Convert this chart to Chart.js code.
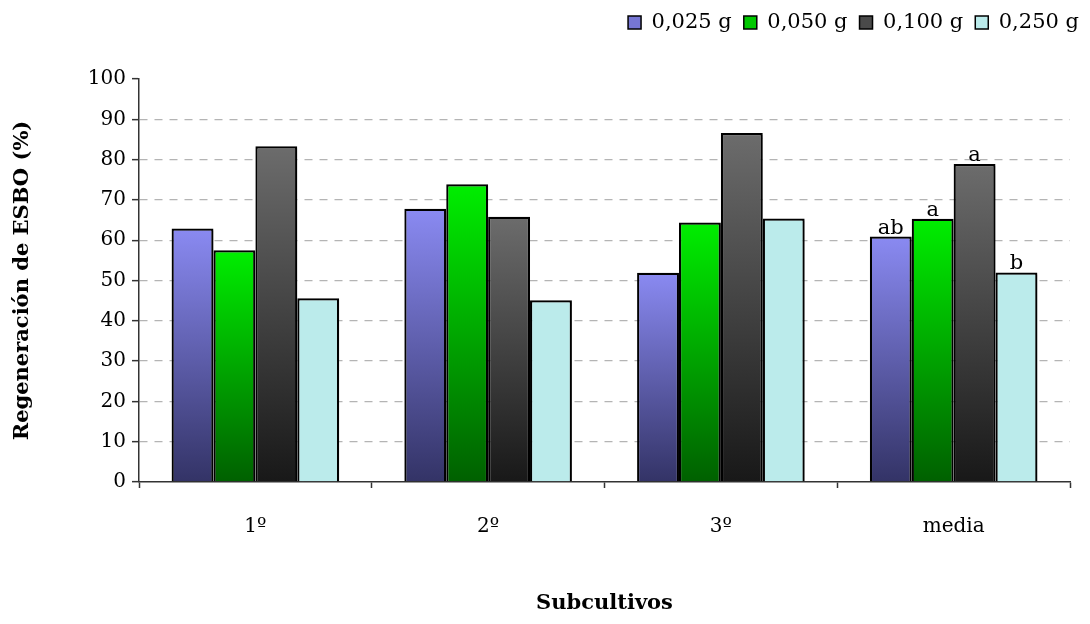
<!DOCTYPE html>
<html>
<head>
<meta charset="utf-8">
<script src="https://cdn.jsdelivr.net/npm/chart.js@4.4.1/dist/chart.umd.min.js"></script>
<style>
html,body{margin:0;padding:0;background:#fff;}
#wrap{width:1090px;height:624px;}
</style>
</head>
<body>
<div id="wrap"><canvas id="c" width="1090" height="624"></canvas></div>
<script>
const categories = ['1º', '2º', '3º', 'media'];
const seriesNames = ['0,025 g', '0,050 g', '0,100 g', '0,250 g'];
const s025 = [62.9, 67.8, 51.9, 60.9];
const s050 = [57.5, 73.9, 64.4, 65.3];
const s100 = [83.3, 65.8, 86.6, 78.9];
const s250 = [45.6, 45.1, 65.4, 52.0];
const mediaLetters = ['ab', 'a', 'a', 'b'];
const yTicks = [0, 10, 20, 30, 40, 50, 60, 70, 80, 90, 100];

const FONT = "'DejaVu Serif', 'Liberation Serif', serif";
const gradStops = [
  ['#8a8af2', '#333366'],
  ['#00ee00', '#006000'],
  ['#6c6c6c', '#181818'],
  ['#bbebeb', '#bbebeb']
];
const legendFill = ['#7676d4', '#00c800', '#4a4a4a', '#bbebeb'];

function barFill(idx) {
  return function(ctx) {
    const chart = ctx.chart;
    const y = chart.scales && chart.scales.y;
    if (!chart.chartArea || !y || ctx.raw == null) return gradStops[idx][0];
    const top = y.getPixelForValue(ctx.raw);
    const bot = y.getPixelForValue(0);
    const g = chart.ctx.createLinearGradient(0, top, 0, bot);
    g.addColorStop(0, gradStops[idx][0]);
    g.addColorStop(1, gradStops[idx][1]);
    return g;
  };
}

const seriesValues = [s025, s050, s100, s250];
const datasets = seriesValues.map((vals, i) => ({
  label: seriesNames[i],
  data: vals,
  backgroundColor: barFill(i),
  borderColor: '#000',
  borderWidth: 2.2,
  borderSkipped: 'bottom',
  barPercentage: 1.0,
  categoryPercentage: 0.72
}));

const letterPlugin = {
  id: 'letters',
  afterDatasetsDraw(chart) {
    const ctx = chart.ctx;
    ctx.save();
    ctx.font = "21px " + FONT;
    ctx.fillStyle = '#000';
    ctx.textAlign = 'center';
    ctx.textBaseline = 'alphabetic';
    chart.data.datasets.forEach((ds, i) => {
      const meta = chart.getDatasetMeta(i);
      const el = meta.data[categories.length - 1];
      ctx.fillText(mediaLetters[i], el.x, el.y - 3);
    });
    ctx.restore();
  }
};

const shadowPlugin = {
  id: 'shadow',
  beforeDatasetsDraw(chart) {
    const ctx = chart.ctx;
    ctx.save();
    ctx.shadowColor = 'rgba(0,0,0,0.22)';
    ctx.shadowOffsetX = 2;
    ctx.shadowOffsetY = 2;
    ctx.shadowBlur = 1;
  },
  afterDatasetsDraw(chart) {
    chart.ctx.restore();
  }
};

const legendSpace = {
  id: 'legendSpace',
  beforeInit(chart) {
    const origFit = chart.legend.fit;
    chart.legend.fit = function() {
      origFit.call(this);
      this.height += 36;
    };
  },
  afterLayout(chart) {
    chart.legend.right += 21;
  }
};

new Chart(document.getElementById('c'), {
  type: 'bar',
  data: { labels: categories, datasets: datasets },
  plugins: [shadowPlugin, letterPlugin, legendSpace],
  options: {
    responsive: false,
    animation: false,
    layout: { padding: { top: 0, right: 20, left: 0, bottom: 0 } },
    plugins: {
      tooltip: { enabled: false },
      legend: {
        position: 'top',
        align: 'end',
        labels: {
          font: { family: FONT, size: 21 },
          color: '#000',
          boxWidth: 13,
          boxHeight: 13,
          padding: 12,
          generateLabels(chart) {
            return chart.data.datasets.map((ds, i) => ({
              text: ds.label,
              fillStyle: legendFill[i],
              strokeStyle: '#000',
              lineWidth: 1.5,
              datasetIndex: i,
              hidden: false
            }));
          }
        }
      }
    },
    scales: {
      x: {
        afterFit(scale) { scale.height = 142; },
        border: { display: true, color: '#333', width: 1.5 },
        grid: {
          display: true,
          offset: true,
          drawOnChartArea: false,
          drawTicks: true,
          tickLength: 6,
          tickColor: '#333',
          tickWidth: 1.5
        },
        ticks: {
          font: { family: FONT, size: 20 },
          color: '#000',
          padding: 27
        },
        title: {
          display: true,
          text: 'Subcultivos',
          font: { family: FONT, size: 21, weight: 'bold' },
          color: '#000',
          padding: { top: 0, bottom: 8 }
        }
      },
      y: {
        min: 0,
        max: 100,
        afterFit(scale) { scale.width = 139; },
        afterBuildTicks(scale) { scale.ticks = yTicks.map(v => ({ value: v })); },
        border: { display: true, color: '#333', width: 1.5, dash: [8, 7] },
        grid: {
          color(ctx) {
            const v = ctx.tick && ctx.tick.value;
            return (v === 0 || v === 100) ? 'rgba(0,0,0,0)' : '#b4b4b4';
          },
          lineWidth: 1.3,
          drawTicks: true,
          tickLength: 7,
          tickColor: '#333',
          tickWidth: 1.5,
          tickBorderDash: []
        },
        ticks: {
          font: { family: FONT, size: 20 },
          color: '#000',
          padding: 6
        },
        title: {
          display: true,
          text: 'Regeneración de ESBO (%)',
          font: { family: FONT, size: 21, weight: 'bold' },
          color: '#000',
          padding: { top: 10, bottom: 0 }
        }
      }
    }
  }
});
</script>
</body>
</html>
